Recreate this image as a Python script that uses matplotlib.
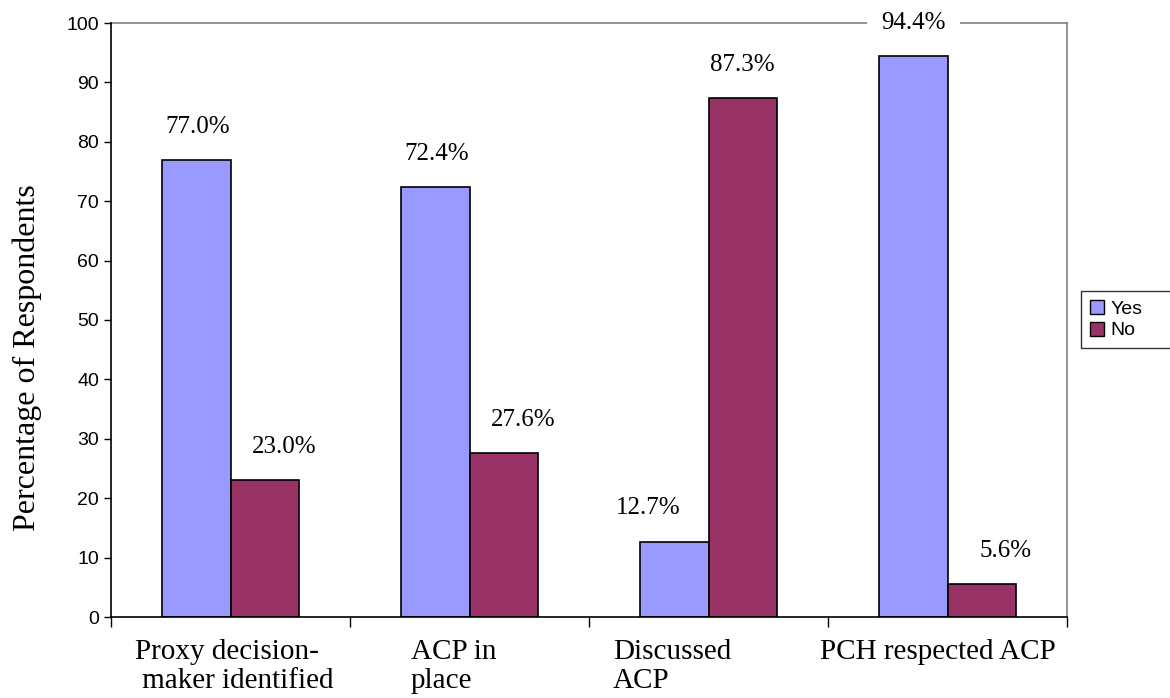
import numpy as np
import matplotlib.pyplot as plt
from matplotlib.patches import Patch
from matplotlib.transforms import blended_transform_factory

# data
categories = ["Proxy decision-\n maker identified", "ACP in\nplace", "Discussed\nACP", "PCH respected ACP"]
yes_vals = [77.0, 72.4, 12.7, 94.4]
no_vals = [23.0, 27.6, 87.3, 5.6]
series_names = ["Yes", "No"]
yticks = [0, 10, 20, 30, 40, 50, 60, 70, 80, 90, 100]

YES_COLOR = "#9999FF"
NO_COLOR = "#993366"
serif = "Liberation Serif"
sans = "Liberation Sans"

fig = plt.figure(figsize=(11.7, 6.98), dpi=100)
ax = fig.add_axes([111 / 1170, 81 / 698, 956 / 1170, 594 / 698])

x = np.arange(len(categories))
w = 0.285
b1 = ax.bar(x - w / 2, yes_vals, w, color=YES_COLOR, edgecolor="black", linewidth=1.2)
b2 = ax.bar(x + w / 2, no_vals, w, color=NO_COLOR, edgecolor="black", linewidth=1.2)

# value labels (small horizontal nudges like the original)
yes_dx = [1, 1, -19, 0]
no_dx = [14, 14, 0, 17]
for bars, vals, dxs in [(b1, yes_vals, yes_dx), (b2, no_vals, no_dx)]:
    for r, v, dx in zip(bars, vals, dxs):
        ax.annotate(f"{v:.1f}%", (r.get_x() + r.get_width() / 2, v),
                    xytext=(dx, 19.5), textcoords="offset points",
                    ha="center", va="baseline", fontsize=18, family=serif,
                    annotation_clip=False, zorder=5,
                    bbox=dict(facecolor="white", edgecolor="none", pad=10) if v > 90 else None)

ax.set_xlim(-0.5, len(categories) - 0.5)
ax.set_ylim(0, 100)
ax.set_yticks(yticks)
ax.set_yticklabels([str(t) for t in yticks], fontsize=14, family=sans)
ax.tick_params(axis="y", direction="out", length=5, width=1)

# ticks between categories, labels drawn by hand (left aligned like excel)
ax.set_xticks(np.arange(-0.5, len(categories), 1.0))
ax.set_xticklabels([])
ax.tick_params(axis="x", direction="out", length=7, width=1)
trans = blended_transform_factory(ax.transData, ax.transAxes)
label_dx = [-0.40, -0.245, -0.40, -0.535]
for i, (lab, dx) in enumerate(zip(categories, label_dx)):
    ax.annotate(lab, (i + dx, 0), xycoords=trans, xytext=(0, -16),
                textcoords="offset points", ha="left", va="top",
                fontsize=21, family=serif, linespacing=1.15, annotation_clip=False)

ax.set_ylabel("Percentage of Respondents", fontsize=23, family=serif)
ax.yaxis.set_label_coords(-0.072, 0.436)

for s in ["top", "right"]:
    ax.spines[s].set_color("#808080")
    ax.spines[s].set_linewidth(1.2)
ax.spines["top"].set_zorder(1)
for s in ["left", "bottom"]:
    ax.spines[s].set_color("black")
    ax.spines[s].set_linewidth(1.2)

handles = [Patch(facecolor=YES_COLOR, edgecolor="black"), Patch(facecolor=NO_COLOR, edgecolor="black")]
leg = fig.legend(handles, series_names, loc="upper left",
                 bbox_to_anchor=(1081 / 1170, 1 - 291 / 698 - 0.01, 100 / 1170, 0.01), mode="expand",
                 prop={"family": sans, "size": 14}, frameon=True, fancybox=False,
                 handlelength=0.75, handleheight=0.75, handletextpad=0.3, borderpad=0.45,
                 labelspacing=0.2, borderaxespad=0)
leg.get_frame().set_edgecolor("black")
leg.get_frame().set_linewidth(1.0)

fig.savefig("out.png", dpi=100)
